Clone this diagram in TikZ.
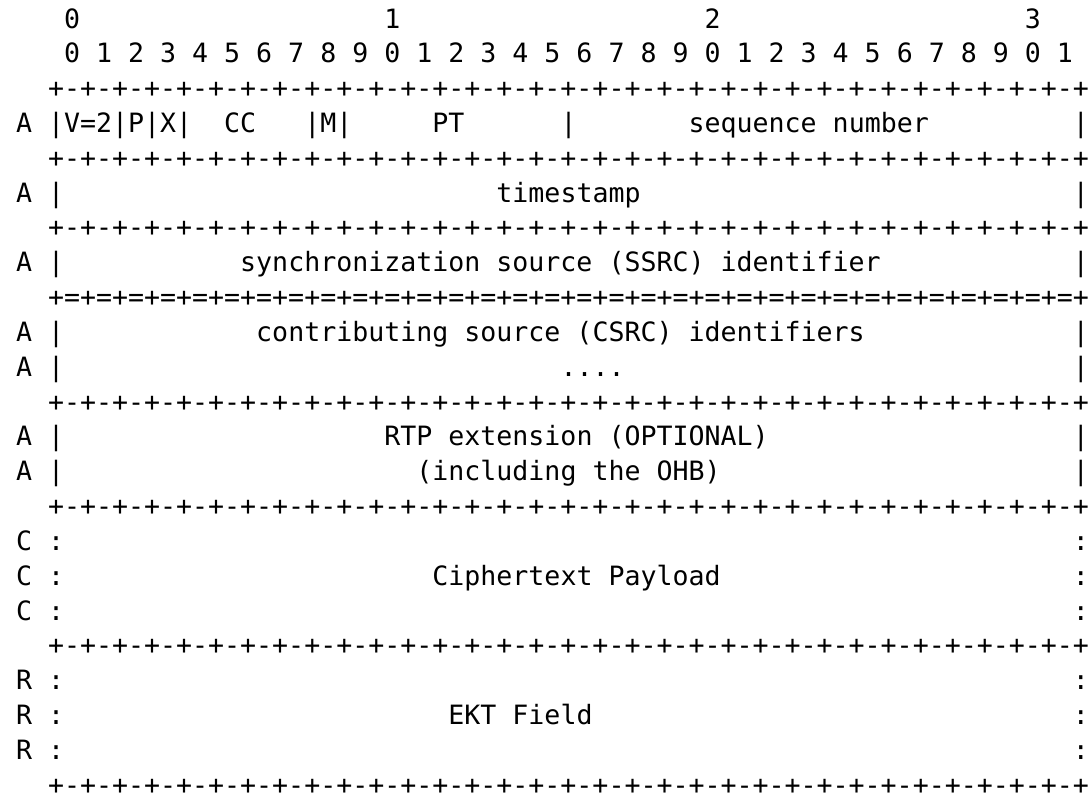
\documentclass[tikz,border=0pt]{standalone}
\usepackage{fontspec}
\newfontfamily\asciifont{DejaVu Sans Mono}
\newlength\cw
\setlength\cw{16.0147pt}
\newcommand\sk[1]{\hspace*{#1\cw}}
\newcommand\dashrow{+-+-+-+-+-+-+-+-+-+-+-+-+-+-+-+-+-+-+-+-+-+-+-+-+-+-+-+-+-+-+-+-+}
\newcommand\eqrow{+=+=+=+=+=+=+=+=+=+=+=+=+=+=+=+=+=+=+=+=+=+=+=+=+=+=+=+=+=+=+=+=+}
\frenchspacing
\begin{document}
\begin{tikzpicture}[x=1pt,y=-1pt,
  ln/.style={anchor=base west, inner sep=0pt, outer sep=0pt, text=black,
    font=\asciifont\fontsize{26.6pt}{34.8pt}\selectfont}]
\fill[white] (0,0) rectangle (1089,801);
\useasboundingbox (0,0) rectangle (1089,801);
\def\lx{16.015}
\node[ln] (l1)  at (\lx,28.00)  {\sk{3}0\sk{19}1\sk{19}2\sk{19}3};
\node[ln] (l2)  at (\lx,62.83)  {\sk{3}0 1 2 3 4 5 6 7 8 9 0 1 2 3 4 5 6 7 8 9 0 1 2 3 4 5 6 7 8 9 0 1};
\node[ln] (l3)  at (\lx,97.65)  {\sk{2}\dashrow};
\node[ln] (l4)  at (\lx,132.48) {A |V=2|P|X|\sk{2}CC\sk{3}|M|\sk{5}PT\sk{6}|\sk{7}sequence number\sk{9}|};
\node[ln] (l5)  at (\lx,167.30) {\sk{2}\dashrow};
\node[ln] (l6)  at (\lx,202.13) {A |\sk{27}timestamp\sk{27}|};
\node[ln] (l7)  at (\lx,236.96) {\sk{2}\dashrow};
\node[ln] (l8)  at (\lx,271.78) {A |\sk{11}synchronization source (SSRC) identifier\sk{12}|};
\node[ln] (l9)  at (\lx,306.61) {\sk{2}\eqrow};
\node[ln] (l10) at (\lx,341.43) {A |\sk{12}contributing source (CSRC) identifiers\sk{13}|};
\node[ln] (l11) at (\lx,376.26) {A |\sk{31}....\sk{28}|};
\node[ln] (l12) at (\lx,411.09) {\sk{2}\dashrow};
\node[ln] (l13) at (\lx,445.91) {A |\sk{20}RTP extension (OPTIONAL)\sk{19}|};
\node[ln] (l14) at (\lx,480.74) {A |\sk{22}(including the OHB)\sk{22}|};
\node[ln] (l15) at (\lx,515.56) {\sk{2}\dashrow};
\node[ln] (l16) at (\lx,550.39) {C :\sk{63}:};
\node[ln] (l17) at (\lx,585.22) {C :\sk{23}Ciphertext Payload\sk{22}:};
\node[ln] (l18) at (\lx,620.04) {C :\sk{63}:};
\node[ln] (l19) at (\lx,654.87) {\sk{2}\dashrow};
\node[ln] (l20) at (\lx,689.69) {R :\sk{63}:};
\node[ln] (l21) at (\lx,724.52) {R :\sk{24}EKT Field\sk{30}:};
\node[ln] (l22) at (\lx,759.35) {R :\sk{63}:};
\node[ln] (l23) at (\lx,794.17) {\sk{2}\dashrow};
\end{tikzpicture}
\end{document}
